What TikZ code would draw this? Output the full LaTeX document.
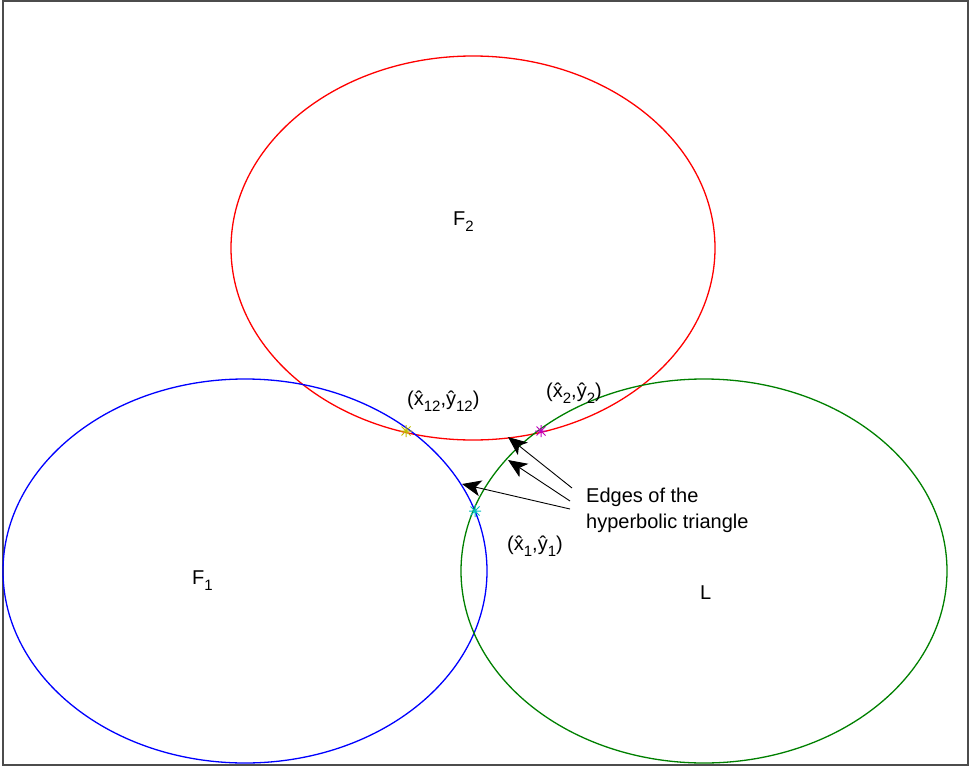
\documentclass[tikz,border=0pt]{standalone}
\usepackage{fontspec}
\setmainfont{Liberation Sans}
\usepackage{xcolor}
\usetikzlibrary{arrows.meta,positioning}
\definecolor{mgreen}{rgb}{0,0.5,0}
\definecolor{myellow}{rgb}{0.75,0.75,0}
\definecolor{mmagenta}{rgb}{0.75,0,0.75}
\definecolor{mcyan}{rgb}{0,0.75,0.75}
\newcommand{\starmark}[2]{%
  \draw[#2, line width=1pt] (#1) ++(-6,0) -- ++(12,0) (#1) ++(0,-6) -- ++(0,12)
    (#1) ++(-4.5,-4.5) -- ++(9,9) (#1) ++(-4.5,4.5) -- ++(9,-9);}
\newcommand{\lowsub}[1]{\raisebox{-6pt}{\fontsize{15}{15}\selectfont #1}}

\begin{document}
\begin{tikzpicture}[x=1pt, y=-1pt, font=\fontsize{20}{26}\selectfont,
    lbl/.style={inner sep=0pt, anchor=base west},
    annot/.style={line width=0.9pt, black, -{Stealth[length=19pt,width=16pt,inset=5pt]}}]
    \useasboundingbox (0,0) rectangle (971,768);
    \draw[line width=1.6pt, black!70] (3,1) rectangle (968,765);

    % the three ellipses
    \draw[red, line width=1.3pt] (473,248) ellipse (242 and 192);
    \draw[blue, line width=1.3pt] (245,571) ellipse (242 and 192);
    \draw[mgreen, line width=1.3pt] (704,571) ellipse (243 and 192);

    \node[lbl] (F2) at (453,225) {F\lowsub{2}};
    \node[lbl] (F1) at (192,584) {F\lowsub{1}};
    \node[lbl] (L) at (700,599) {L};

    % vertices of the triangle
    \coordinate (p12) at (406,431);
    \coordinate (p2) at (541,431);
    \coordinate (p1) at (475,511);
    \starmark{p12}{myellow}
    \starmark{p2}{mmagenta}
    \starmark{p1}{mcyan}
    \node[lbl] (l12) at (407,405) {(\^x\lowsub{12},\^y\lowsub{12})};
    \node[lbl] (l2) at (546,397) {(\^x\lowsub{2},\^y\lowsub{2})};
    \node[lbl] (l1) at (507,550) {(\^x\lowsub{1},\^y\lowsub{1})};

    % edges annotation
    \node[lbl, align=left] (edges) at (586,528) {Edges of the\\hyperbolic triangle};
    \coordinate (e1) at (572,488);
    \coordinate (e2) at (570,501);
    \coordinate (e3) at (570,509);
    \coordinate (t1) at (508,437);
    \coordinate (t2) at (508,460);
    \coordinate (t3) at (462,484);
    \draw[annot] (e1) -- (t1);
    \draw[annot] (e2) -- (t2);
    \draw[annot] (e3) -- (t3);
\end{tikzpicture}
\end{document}
